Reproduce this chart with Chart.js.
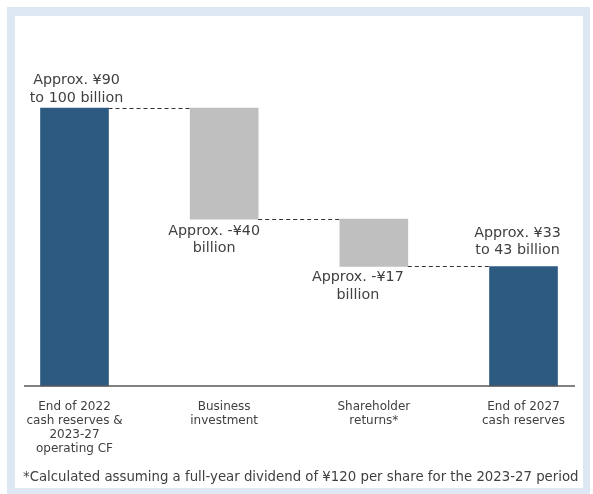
<!DOCTYPE html>
<html>
<head>
<meta charset="utf-8">
<script src="https://cdn.jsdelivr.net/npm/chart.js@4.4.1/dist/chart.umd.min.js"></script>
<style>
  html, body { margin: 0; padding: 0; background: #fff; }
  #frame {
    position: absolute; left: 7px; top: 7px;
    width: 568px; height: 472px;
    border: 8px solid #dde8f4; border-top-width: 9px; border-right-width: 7px;
  }
  #box { position: absolute; left: 0; top: 0; width: 593px; height: 494px; }
  #note {
    position: absolute; left: 23px; top: 469px;
    font: 13.3px "DejaVu Sans", sans-serif; color: #404040; white-space: nowrap;
  }
</style>
</head>
<body>
<div id="frame"></div>
<div id="box"><canvas id="cashChart" width="593" height="494"></canvas></div>
<div id="note">*Calculated assuming a full-year dividend of ¥120 per share for the 2023-27 period</div>
<script>
  // Cash allocation waterfall, ¥ billion (upper end of each range)
  const categories = [
    ['End of 2022', 'cash reserves &', '2023-27', 'operating CF'],
    ['Business', 'investment'],
    ['Shareholder', 'returns*'],
    ['End of 2027', 'cash reserves']
  ];
  const startTotal = 100;
  const changes = [-40, -17];
  const valueLabels = [
    ['Approx. ¥90', 'to 100 billion'],
    ['Approx. -¥40', 'billion'],
    ['Approx. -¥17', 'billion'],
    ['Approx. ¥33', 'to 43 billion']
  ];

  // running totals -> floating bars
  const levels = [startTotal];
  changes.forEach(c => levels.push(levels[levels.length - 1] + c));
  const endTotal = levels[levels.length - 1];
  const bars = [[0, startTotal]];
  changes.forEach((c, i) => bars.push([levels[i + 1], levels[i]]));
  bars.push([0, endTotal]);
  const isTotal = [true, ...changes.map(() => false), true];

  const TEXT = '#404040';
  const FONT = '"DejaVu Sans", sans-serif';

  // label nudges [dx, gap] for each bar
  const labelNudge = [[2, 10], [-10, 12], [-16, 11], [-6, 16]];

  const waterfallExtras = {
    id: 'waterfallExtras',
    afterDatasetsDraw(chart) {
      const ctx = chart.ctx;
      const meta = chart.getDatasetMeta(0);
      const y = chart.scales.y;
      const area = chart.chartArea;
      ctx.save();

      // connectors between bars
      ctx.strokeStyle = '#333';
      ctx.lineWidth = 1;
      ctx.setLineDash([4, 3]);
      for (let i = 0; i < meta.data.length - 1; i++) {
        const a = meta.data[i], b = meta.data[i + 1];
        const py = Math.round(y.getPixelForValue(levels[i])) + 0.5;
        ctx.beginPath();
        ctx.moveTo(a.x + a.width / 2, py);
        ctx.lineTo(b.x - b.width / 2, py);
        ctx.stroke();
      }
      ctx.setLineDash([]);

      // baseline
      ctx.strokeStyle = '#595959';
      ctx.lineWidth = 1.5;
      ctx.beginPath();
      ctx.moveTo(24, area.bottom);
      ctx.lineTo(575, area.bottom);
      ctx.stroke();

      // value labels
      ctx.fillStyle = TEXT;
      ctx.font = '14.3px ' + FONT;
      ctx.textAlign = 'center';
      ctx.textBaseline = 'middle';
      const lh = 17.5;
      meta.data.forEach((bar, i) => {
        const lines = valueLabels[i];
        const [dx, gap] = labelNudge[i];
        const top = Math.min(bar.y, bar.base);
        const bottom = Math.max(bar.y, bar.base);
        lines.forEach((t, k) => {
          const ty = isTotal[i]
            ? top - gap - (lines.length - 1 - k) * lh
            : bottom + gap + k * lh;
          ctx.fillText(t, bar.x + dx, ty);
        });
      });
      ctx.restore();
    }
  };

  const ctx = document.getElementById('cashChart').getContext('2d');
  const cashChart = new Chart(ctx, {
    type: 'bar',
    data: {
      labels: categories,
      datasets: [{
        data: bars,
        backgroundColor: isTotal.map(t => t ? '#2d5a80' : '#bfbfbf'),
        borderWidth: 0,
        barThickness: 68,
        clip: false
      }]
    },
    options: {
      responsive: false,
      animation: false,
      layout: { padding: { top: 108, left: 74.5, right: 69.5, bottom: 0 } },
      plugins: { legend: { display: false }, tooltip: { enabled: false } },
      scales: {
        x: {
          offset: false,
          grid: { display: false, drawTicks: false },
          border: { display: false },
          ticks: {
            color: TEXT,
            font: { family: FONT, size: 12, lineHeight: 1.17 },
            padding: 14,
            maxRotation: 0,
            autoSkip: false
          },
          afterFit(scale) { scale.height = 108; }
        },
        y: { display: false, min: 0, max: 100 }
      }
    },
    plugins: [waterfallExtras]
  });
</script>
</body>
</html>
